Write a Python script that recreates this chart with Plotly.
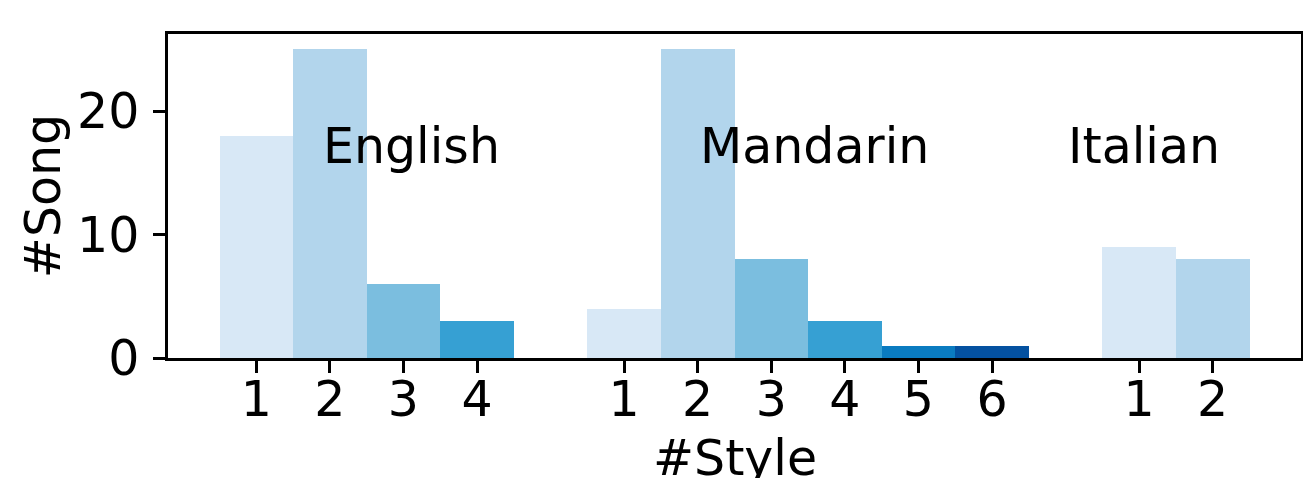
import plotly.graph_objects as go

# ---- data ----
languages = ["English", "Mandarin", "Italian"]
english_songs = [18, 25, 6, 3]
mandarin_songs = [4, 25, 8, 3, 1, 1]
italian_songs = [9, 8]
style_palette = ["#d8e8f6", "#b2d5ec", "#7bbedf", "#36a0d3", "#0a7bc0", "#0451a0"]

groups = [english_songs, mandarin_songs, italian_songs]
group_gap = 1  # empty slot between groups

FONT = "DejaVu Sans"
FS = 49

fig = go.Figure()
tickvals, ticktext = [], []
start = 0
for lang, vals in zip(languages, groups):
    xs = [start + i for i in range(len(vals))]
    fig.add_trace(go.Bar(
        x=xs, y=vals, width=1.0,
        marker=dict(color=style_palette[:len(vals)], line=dict(width=0)),
        name=lang, showlegend=False,
    ))
    tickvals += xs
    ticktext += [str(i + 1) for i in range(len(vals))]
    start += len(vals) + group_gap

# language label placement (x in bar units, y in song units)
label_x = [0.88, 6.0, 11.0]
label_y = 17.1
for lang, lx in zip(languages, label_x):
    fig.add_annotation(x=lx, y=label_y, text=lang, showarrow=False,
                       xanchor="left", yanchor="middle",
                       font=dict(family=FONT, size=FS, color="#000000"))

# x-axis title, placed below the tick labels (partly beyond the figure edge, as in the source)
fig.add_annotation(x=0.5, y=-0.311, xref="paper", yref="paper", text="#Style",
                   showarrow=False, xanchor="center", yanchor="middle",
                   font=dict(family=FONT, size=FS, color="#000000"))

n_slots = tickvals[-1] + 1
fig.update_layout(
    width=1303, height=478,
    margin=dict(l=168, r=2, t=34, b=120, autoexpand=False),
    plot_bgcolor="white", paper_bgcolor="white",
    bargap=0,
    font=dict(family=FONT, size=FS, color="#000000"),
)
fig.update_xaxes(
    range=[-0.5 - 0.7, n_slots - 0.5 + 0.7],
    tickvals=tickvals, ticktext=ticktext,
    ticks="outside", ticklen=12, tickwidth=2.5, tickcolor="#000000",
    showline=True, linecolor="#000000", linewidth=2.5, mirror=True,
    showgrid=False, zeroline=False, automargin=False,
    tickfont=dict(family=FONT, size=FS),
    ticklabelstandoff=-16,
)
fig.update_yaxes(
    range=[0, 26.25],
    tickvals=[0, 10, 20],
    ticks="outside", ticklen=12, tickwidth=2.5, tickcolor="#000000",
    showline=True, linecolor="#000000", linewidth=2.5, mirror=True,
    showgrid=False, zeroline=False, automargin=False,
    tickfont=dict(family=FONT, size=FS),
    ticklabelstandoff=4,
    title=dict(text="#Song", font=dict(family=FONT, size=FS), standoff=1),
)
fig.write_html("out.html",
               config={"displayModeBar": False},
               post_script="document.body.style.margin='0';document.body.style.overflow='hidden';")
